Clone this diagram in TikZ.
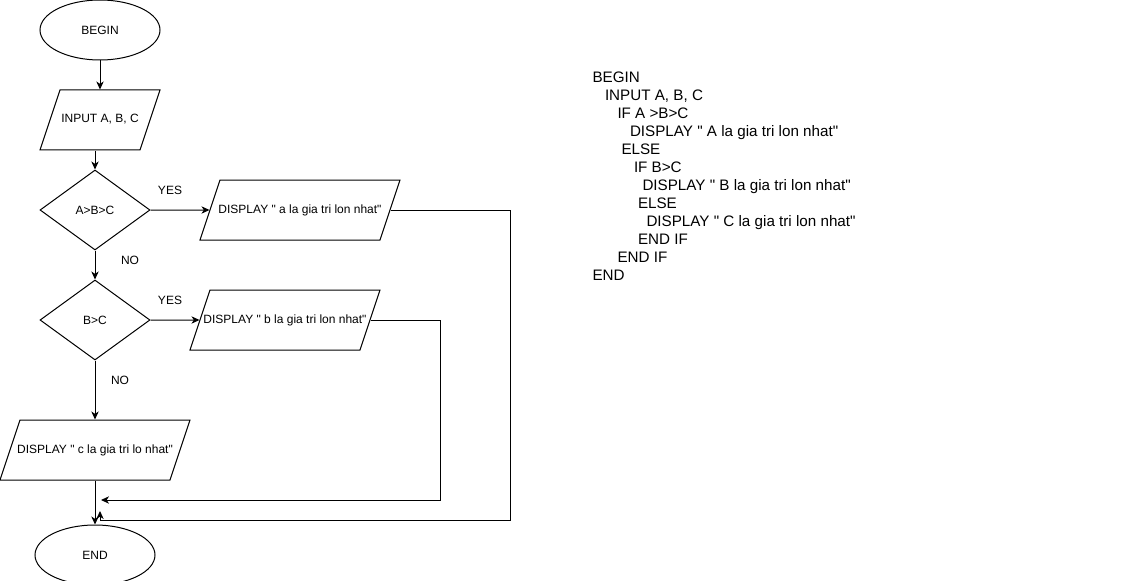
\documentclass[tikz,border=0pt]{standalone}
\usepackage{fontspec}
\setmainfont{Liberation Sans}[Ligatures=TeXOff]
\usetikzlibrary{shapes.geometric,arrows.meta}
\begin{document}
\begin{tikzpicture}[x=0.75pt,y=-0.75pt,line width=0.75pt,
    txt/.style={font=\fontsize{9}{11}\selectfont},
    box/.style={draw, txt, inner sep=0pt},
    startstop/.style={box, ellipse, minimum width=90pt, minimum height=45pt},
    io/.style={box, trapezium, trapezium left angle=71.57, trapezium right angle=108.43,
        trapezium stretches body=true, text height=6.5pt, text depth=2pt, inner ysep=18.25pt},
    decision/.style={box, diamond, minimum width=82.5pt, minimum height=60pt},
    arr/.style={-{Stealth[length=6pt,width=5.5pt,inset=1.8pt]}}]
    \useasboundingbox (0,0) rectangle (1141,581);
    % flowchart
    \node[startstop] (begin) at (100,30) {BEGIN};
    \node[io, minimum width=90pt] (input) at (100,120) {\makebox[0pt]{INPUT A, B, C}};
    \node[decision] (cond1) at (95,210) {A>B>C};
    \node[io, minimum width=150pt] (dispa) at (300,210) {\makebox[0pt]{DISPLAY " a la gia tri lon nhat"}};
    \node[decision] (cond2) at (95,320) {B>C};
    \node[io, minimum width=142.5pt] (dispb) at (285,320) {\makebox[0pt]{DISPLAY " b la gia tri lon nhat"}};
    \node[io, minimum width=142.5pt] (dispc) at (95,450) {\makebox[0pt]{DISPLAY " c la gia tri lo nhat"}};
    \node[startstop] (end) at (95,555) {END};
    \node[txt] (yes1) at (170,190) {YES};
    \node[txt] (no1) at (130,260) {NO};
    \node[txt] (yes2) at (170,300) {YES};
    \node[txt] (no2) at (120,380) {NO};
    \coordinate (cornera) at (510,520);
    \coordinate (turna) at (100,520);
    \coordinate (mergea) at (100,511);
    \coordinate (cornerb) at (440,500);
    \coordinate (mergeb) at (101,500);
    \draw[arr] (begin) -- (input);
    \draw[arr] (input.south -| cond1.north) -- (cond1);
    \draw[arr] (cond1) -- (dispa);
    \draw[arr] (cond1) -- (cond2);
    \draw[arr] (cond2) -- (dispb);
    \draw[arr] (cond2) -- (dispc);
    \draw[arr] (dispc) -- (end);
    \draw[arr] (dispb.east) -| (cornerb) -- (mergeb);
    \draw[arr] (dispa.east) -| (cornera) -- (turna) -- (mergea);
    % pseudo code
    \foreach \ind/\line [count=\i] in {0/BEGIN, 12.5/{INPUT A, B, C}, 25/{IF A >B>C},
        37.5/{DISPLAY " A la gia tri lon nhat"}, 29/ELSE, 41.5/{IF B>C},
        50/{DISPLAY " B la gia tri lon nhat"}, 45.5/ELSE, 54/{DISPLAY " C la gia tri lon nhat"},
        45.5/{END IF}, 25/{END IF}, 0/END}
        \node[inner sep=0pt, anchor=base west, font=\fontsize{11.4}{13.5}\selectfont]
            (code\i) at (592+\ind,64.5+18*\i) {\line};
\end{tikzpicture}
\end{document}
